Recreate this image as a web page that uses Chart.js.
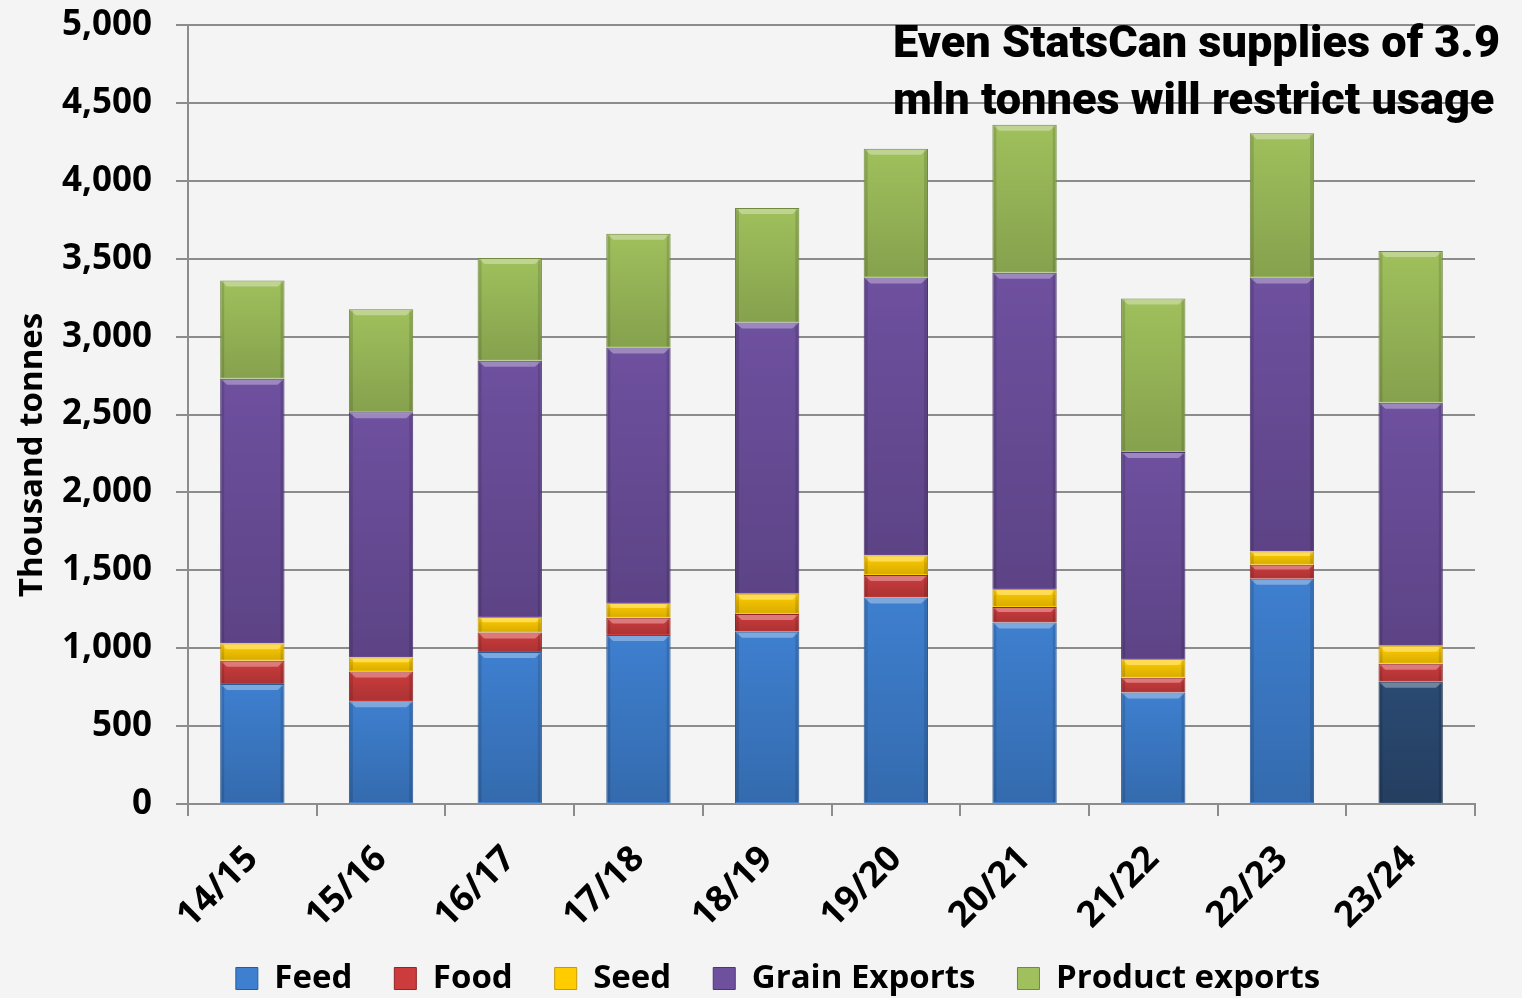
<!DOCTYPE html>
<html>
<head>
<meta charset="utf-8">
<script src="https://cdn.jsdelivr.net/npm/chart.js@4/dist/chart.umd.min.js"></script>
<style>
	html, body { margin: 0; padding: 0; background: #f4f4f4; }
	#wrap { position: relative; width: 1522px; height: 998px; }
	#chart { display: block; }
	#note {
		position: absolute; left: 893px; top: 13px;
		font-family: Roboto, 'Liberation Sans', sans-serif;
		font-weight: 900; font-size: 45px; line-height: 57px; color: #000;
		white-space: nowrap; transform-origin: 0 0;
	}
	#note span { display: inline-block; }
</style>
</head>
<body>
<div id="wrap">
	<canvas id="chart" width="1522" height="998"></canvas>
	<div id="note"><span id="noteLine1">Even StatsCan supplies of 3.9</span><br><span>mln tonnes will restrict usage</span></div>
</div>
<script>
const categories = ['14/15', '15/16', '16/17', '17/18', '18/19', '19/20', '20/21', '21/22', '22/23', '23/24'];
const feed = [770, 660, 975, 1085, 1105, 1325, 1165, 715, 1445, 785];
const food = [150, 190, 125, 110, 115, 145, 100, 95, 90, 115];
const seed = [110, 90, 100, 95, 130, 125, 115, 120, 85, 115];
const grainExports = [1700, 1575, 1645, 1640, 1740, 1785, 2030, 1330, 1760, 1560];
const productExports = [630, 660, 660, 730, 735, 825, 950, 985, 925, 975];
const yMin = 0;
const yMax = 5000;
const yStep = 500;

const FONT = "'Open Sans', 'Noto Sans', sans-serif";

// squeeze the headline so it reads like the condensed face in the original
const note = document.getElementById('note');
const line1 = document.getElementById('noteLine1');
note.style.transform = `scaleX(${607 / line1.offsetWidth})`;

// last season's feed bar is shown darker
const feedColors = categories.map((c, i) => (i === categories.length - 1 ? '#2b4a72' : '#3e7fcf'));
const feedBorders = categories.map((c, i) => (i === categories.length - 1 ? '#1c3150' : '#2a5a96'));

const axisTitle = {
	id: 'axisTitle',
	afterDraw(chart) {
		const ctx = chart.ctx;
		ctx.save();
		ctx.translate(33, 455);
		ctx.rotate(-Math.PI / 2);
		ctx.font = `bold 33px ${FONT}`;
		ctx.fillStyle = '#000';
		ctx.textAlign = 'center';
		ctx.textBaseline = 'middle';
		ctx.fillText('Thousand tonnes', 0, 0);
		ctx.restore();
	},
};

// the rotated category labels hang a little below the x scale box; don't clip them
const labelRoom = {
	id: 'labelRoom',
	afterLayout(chart) {
		chart.scales.x.bottom = chart.height;
	},
};

// light bevel on top of each segment and a darker bottom, like the Excel bar style
const bevel = {
	id: 'bevel',
	afterDatasetsDraw(chart) {
		const ctx = chart.ctx;
		chart.data.datasets.forEach((ds, di) => {
			const meta = chart.getDatasetMeta(di);
			meta.data.forEach((bar) => {
				const { x, y, base, width } = bar.getProps(['x', 'y', 'base', 'width'], true);
				const left = x - width / 2;
				const right = x + width / 2;
				const h = base - y;
				const b = Math.min(6, h / 3);
				ctx.save();
				ctx.fillStyle = 'rgba(255,255,255,0.32)';
				ctx.beginPath();
				ctx.moveTo(left + 1, y + 1);
				ctx.lineTo(right - 1, y + 1);
				ctx.lineTo(right - 1 - b, y + b);
				ctx.lineTo(left + 1 + b, y + b);
				ctx.closePath();
				ctx.fill();
				const g = ctx.createLinearGradient(0, y, 0, base);
				g.addColorStop(0, 'rgba(0,0,0,0)');
				g.addColorStop(1, 'rgba(0,0,0,0.16)');
				ctx.fillStyle = g;
				ctx.fillRect(left + 1, y + b, width - 2, h - b - 1);
				ctx.fillStyle = 'rgba(0,0,0,0.12)';
				ctx.fillRect(left + 1, y + 1, 3, h - 2);
				ctx.fillRect(right - 4, y + 1, 3, h - 2);
				ctx.restore();
			});
		});
	},
};

new Chart(document.getElementById('chart'), {
	type: 'bar',
	data: {
		labels: categories,
		datasets: [
			{ label: 'Feed', data: feed, backgroundColor: feedColors, borderColor: feedBorders, borderWidth: 1 },
			{ label: 'Food', data: food, backgroundColor: '#cc3c3d', borderColor: '#8e2526', borderWidth: 1 },
			{ label: 'Seed', data: seed, backgroundColor: '#ffcc00', borderColor: '#c79a00', borderWidth: 1 },
			{ label: 'Grain Exports', data: grainExports, backgroundColor: '#6e509f', borderColor: '#4c3572', borderWidth: 1 },
			{ label: 'Product exports', data: productExports, backgroundColor: '#9fc05c', borderColor: '#71893d', borderWidth: 1 },
		],
	},
	options: {
		responsive: false,
		animation: false,
		layout: { padding: { top: 25, right: 0, left: 34, bottom: -7 } },
		datasets: { bar: { barPercentage: 0.5, categoryPercentage: 1 } },
		scales: {
			x: {
				stacked: true,
				afterFit(scale) { scale.height = 116; },
				grid: { offset: true, drawOnChartArea: false, drawTicks: true, tickLength: 12, color: '#8c8c8c', lineWidth: 2 },
				border: { color: '#8c8c8c', width: 2 },
				ticks: {
					color: '#000',
					font: { family: FONT, weight: 'bold', size: 36 },
					minRotation: 45,
					maxRotation: 45,
					padding: 22,
				},
			},
			y: {
				stacked: true,
				min: yMin,
				max: yMax,
				afterFit(scale) {
					scale.width = 154;
					scale.paddingTop = 0;
					scale.paddingBottom = 0;
				},
				grid: { color: '#8c8c8c', lineWidth: 2, tickLength: 12 },
				border: { color: '#8c8c8c', width: 2 },
				ticks: {
					stepSize: yStep,
					color: '#000',
					padding: 24,
					font: { family: FONT, weight: 'bold', size: 35 },
					callback(value) { return value.toLocaleString('en-US'); },
				},
			},
			// empty right-hand scale only reserves the gap right of the plot
			spacer: {
				type: 'linear',
				position: 'right',
				afterFit(scale) {
					scale.width = 47;
					scale.paddingTop = 0;
					scale.paddingBottom = 0;
				},
				grid: { display: false },
				border: { display: false },
				ticks: { display: false },
			},
		},
		plugins: {
			legend: {
				position: 'bottom',
				labels: {
					color: '#000',
					boxWidth: 22,
					boxHeight: 22,
					padding: 42,
					font: { family: FONT, weight: 'bold', size: 33 },
				},
			},
			tooltip: { enabled: false },
		},
	},
	plugins: [axisTitle, labelRoom, bevel],
});
</script>
</body>
</html>
